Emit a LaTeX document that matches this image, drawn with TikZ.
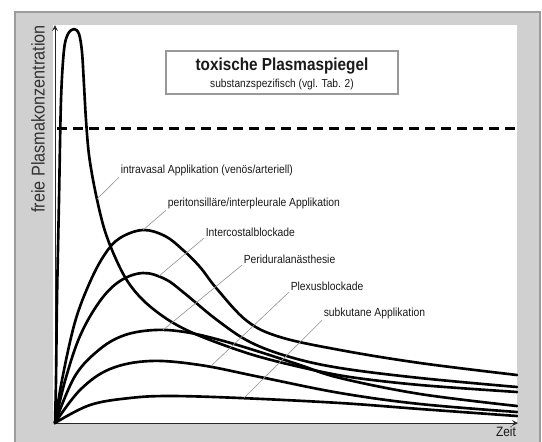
\documentclass[tikz,border=0pt]{standalone}
\usepackage{fontspec}
\setmainfont{Liberation Sans}[FakeStretch=0.88]
\usepackage{xcolor}
\usetikzlibrary{calc, positioning}

\definecolor{rahmengrau}{HTML}{D0D0D0}
\definecolor{randgrau}{HTML}{9C9C9C}
\definecolor{textgrau}{HTML}{1A1A1A}

\begin{document}
\begin{tikzpicture}[>=stealth, x=0.02cm, y=-0.02cm,
    kurve/.style={line width=1.5pt, line cap=round, line join=round},
    leitlinie/.style={draw=gray!85, line width=0.35pt},
    beschriftung/.style={anchor=west, inner sep=0.8pt, text=textgrau,
        font=\fontsize{6.7}{7.7}\selectfont},
    achse/.style={->, line width=0.5pt, draw=black!85}]

    % =================================================================
    % 1. RAHMEN UND ZEICHENFLAECHE
    % =================================================================
    \useasboundingbox (0,0) rectangle (542,441);
    \fill[white] (0,0) rectangle (542,441);
    \filldraw[fill=rahmengrau, draw=randgrau, line width=0.6pt] (15,12) rectangle (540,460);
    \fill[white] (53,25) rectangle (517,423);

    % Ursprung und Achsenenden
    \coordinate (O) at (55,423);
    \coordinate (YEnd) at (55,25);
    \coordinate (XEnd) at (518,423);

    % =================================================================
    % 2. ACHSEN
    % =================================================================
    \draw[achse] (O) -- (YEnd);
    \draw[achse] (O) -- (XEnd);

    \node[rotate=90, text=black!80, font=\fontsize{10.5}{12}\selectfont] (yLabel) at (38,119) {freie Plasmakonzentration};
    \node[text=textgrau, font=\fontsize{7.7}{9}\selectfont] (zeit) at (506,432) {Zeit};

    % =================================================================
    % 3. TOXISCHER PLASMASPIEGEL
    % =================================================================
    \node[draw=gray!80, line width=0.6pt, fill=white, minimum width=4.64cm, minimum height=0.86cm] (titelRahmen) at (282,72.5) {};
    \node[font=\bfseries\fontsize{9.9}{11}\selectfont, text=textgrau] (titel) at (282,66) {toxische Plasmaspiegel};
    \node[font=\fontsize{6.6}{7.5}\selectfont, text=textgrau] (untertitel) at (282,84) {substanzspezifisch (vgl. Tab. 2)};

    \coordinate (DashStart) at (57,128);
    \coordinate (DashEnd) at (515,128);
    \draw[line width=1.7pt, dash pattern=on 5.7pt off 3.4pt] (DashStart) -- (DashEnd);

    % =================================================================
    % 4. KONZENTRATIONSKURVEN
    % =================================================================
    % intravasal
    \draw[kurve] plot[smooth, tension=0.55] coordinates {(55,423) (56,380) (57,300) (59,200) (61,100) (64,50) (68,34) (74,29) (79,34) (82,52) (84,85) (86,120) (89,155) (95,190) (104,228) (115,257) (128,282) (145,302) (170,321) (200,336) (250,354) (300,367) (350,377) (420,385) (517,392)};
    % peritonsillaer/interpleural
    \draw[kurve] plot[smooth, tension=0.6] coordinates {(55,423) (62,380) (75,322) (90,282) (105,254) (120,238) (143,230) (165,236) (183,250) (200,267) (217,289) (247,321) (280,337) (340,350) (420,363) (517,375)};
    % Intercostalblockade
    \draw[kurve] plot[smooth, tension=0.6] coordinates {(55,423) (65,381) (80,336) (100,301) (120,281) (143,273) (165,279) (183,292) (217,320) (250,342) (290,357) (340,368) (420,378) (517,387)};
    % Periduralanaesthesie
    \draw[kurve] plot[smooth, tension=0.6] coordinates {(55,423) (75,376) (100,349) (125,335) (155,330) (185,332) (220,340) (260,352) (300,365) (340,378) (420,394) (517,406)};
    % Plexusblockade
    \draw[kurve] plot[smooth, tension=0.6] coordinates {(55,423) (80,390) (110,369) (150,361) (200,365) (260,377) (340,393) (420,404) (517,412)};
    % subkutan
    \draw[kurve] plot[smooth, tension=0.6] coordinates {(55,423) (90,405) (130,398) (170,396) (240,398) (340,403) (420,409) (517,416)};

    % =================================================================
    % 5. BESCHRIFTUNGEN MIT HINWEISLINIEN
    % =================================================================
    \node[beschriftung] (lblIntravasal) at (119,170) {intravasal Applikation (venös/arteriell)};
    \node[beschriftung] (lblPeriton) at (166,203) {peritonsilläre/interpleurale Applikation};
    \node[beschriftung] (lblInterc) at (204,232) {Intercostalblockade};
    \node[beschriftung] (lblPerid) at (242,259) {Periduralanästhesie};
    \node[beschriftung] (lblPlexus) at (289,286) {Plexusblockade};
    \node[beschriftung] (lblSubkut) at (322,313) {subkutane Applikation};

    \coordinate (cIntravasal) at (97,199);
    \coordinate (cPeriton) at (143,230);
    \coordinate (cInterc) at (159,276);
    \coordinate (cPerid) at (163,330);
    \coordinate (cPlexus) at (211,366);
    \coordinate (cSubkut) at (244,398);

    \draw[leitlinie] (cIntravasal) -- (lblIntravasal.south west);
    \draw[leitlinie] (cPeriton) -- (lblPeriton.south west);
    \draw[leitlinie] (cInterc) -- (lblInterc.south west);
    \draw[leitlinie] (cPerid) -- (lblPerid.south west);
    \draw[leitlinie] (cPlexus) -- (lblPlexus.south west);
    \draw[leitlinie] (cSubkut) -- (lblSubkut.south west);

\end{tikzpicture}
\end{document}
